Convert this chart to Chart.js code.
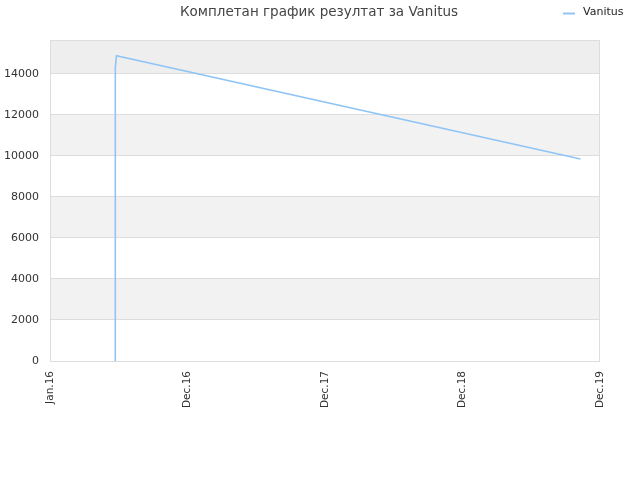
<!DOCTYPE html>
<html>
<head>
<meta charset="utf-8">
<script src="https://cdn.jsdelivr.net/npm/chart.js@4/dist/chart.umd.min.js"></script>
<style>
html,body{margin:0;padding:0;background:#fff;}
#wrap{position:relative;width:640px;height:480px;}
</style>
</head>
<body>
<div id="wrap"><canvas id="c" width="640" height="480"></canvas></div>
<script>
const chartTitle = 'Комплетан график резултат за Vanitus';
const seriesName = 'Vanitus';
const tickLabels = ['Jan.16', 'Dec.16', 'Dec.17', 'Dec.18', 'Dec.19'];
const xMonths = [5.68, 5.68, 5.70, 5.72, 5.80, 46.3];
const scores = [0, 10700, 13900, 14300, 14880, 9850];

const bandPlugin = {
  id: 'bands',
  beforeDraw(chart) {
    const {ctx, chartArea: a, scales: {y}} = chart;
    ctx.save();
    ctx.fillStyle = '#ffffff';
    ctx.fillRect(a.left, a.top, a.right - a.left, a.bottom - a.top);
    const bands = [[2000, 4000], [6000, 8000], [10000, 12000]];
    ctx.fillStyle = '#f2f2f2';
    bands.forEach(([lo, hi]) => {
      const t = y.getPixelForValue(hi), b = y.getPixelForValue(lo);
      ctx.fillRect(a.left, t, a.right - a.left, b - t);
    });
    ctx.fillStyle = '#eeeeee';
    const t14 = y.getPixelForValue(14000);
    ctx.fillRect(a.left, a.top, a.right - a.left, t14 - a.top);
    ctx.restore();
  },
  afterDraw(chart) {
    const {ctx, chartArea: a} = chart;
    ctx.save();
    ctx.strokeStyle = '#dddddd';
    ctx.lineWidth = 1;
    ctx.strokeRect(a.left + 0.5, a.top + 0.5, a.right - a.left - 1, a.bottom - a.top);
    ctx.fillStyle = '#444444';
    ctx.font = '13.5px "DejaVu Sans", sans-serif';
    ctx.textAlign = 'center';
    ctx.textBaseline = 'middle';
    ctx.fillText(chartTitle, 319, 12);
    ctx.strokeStyle = '#90c4f5';
    ctx.lineWidth = 2;
    ctx.beginPath();
    ctx.moveTo(563, 13.5);
    ctx.lineTo(575, 13.5);
    ctx.stroke();
    ctx.fillStyle = '#222222';
    ctx.font = '11px "DejaVu Sans", sans-serif';
    ctx.textAlign = 'left';
    ctx.fillText(seriesName, 583, 12.5);
    ctx.restore();
  }
};

new Chart(document.getElementById('c'), {
  type: 'line',
  data: {
    datasets: [{
      label: seriesName,
      data: xMonths.map((m, i) => ({x: m, y: scores[i]})),
      borderColor: '#90c4f5',
      borderWidth: 1.6,
      pointRadius: 0,
      tension: 0,
      fill: false
    }]
  },
  options: {
    responsive: false,
    animation: false,
    layout: {padding: {top: 40, right: 40, left: 0, bottom: 0}},
    plugins: {legend: {display: false}, title: {display: false}, tooltip: {enabled: false}},
    scales: {
      x: {
        type: 'linear',
        min: 0, max: 48,
        afterFit(s) { s.height = 119; },
        afterBuildTicks(s) { s.ticks = [0, 12, 24, 36, 48].map(v => ({value: v})); },
        grid: {display: false, drawTicks: false},
        border: {display: false},
        ticks: {
          minRotation: 90, maxRotation: 90, padding: 10,
          color: '#333333',
          font: {family: '"DejaVu Sans", sans-serif', size: 10.5},
          callback: (v) => tickLabels[Math.round(v / 12)]
        }
      },
      y: {
        min: 0, max: 15650,
        afterFit(s) { s.width = 50; },
        afterBuildTicks(s) { s.ticks = [0, 2000, 4000, 6000, 8000, 10000, 12000, 14000].map(v => ({value: v})); },
        grid: {color: '#dddddd', drawTicks: false},
        border: {display: false},
        ticks: {
          padding: 11,
          color: '#333333',
          font: {family: '"DejaVu Sans", sans-serif', size: 11},
          callback: (v) => String(v)
        }
      }
    }
  },
  plugins: [bandPlugin]
});
</script>
</body>
</html>
